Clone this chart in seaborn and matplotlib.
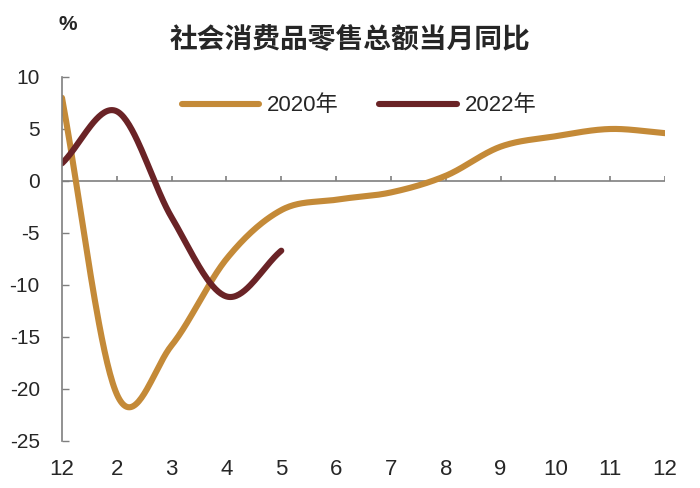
import numpy as np
import pandas as pd
import matplotlib
matplotlib.use("Agg")
import matplotlib.pyplot as plt
import seaborn as sns

# ---- data ----
month_labels = ["12", "2", "3", "4", "5", "6", "7", "8", "9", "10", "11", "12"]
y2020 = [8.0, -20.5, -15.8, -7.5, -2.8, -1.8, -1.1, 0.5, 3.3, 4.3, 5.0, 4.6]
y2022 = [1.7, 6.7, -3.5, -11.1, -6.7]
series_names = ["2020年", "2022年"]
colors = ["#C48A38", "#6A2326"]
title = "社会消费品零售总额当月同比"
y_ticks = [10, 5, 0, -5, -10, -15, -20, -25]


def smooth(vals, n=40):
    """Catmull-Rom style smoothing (like Excel smoothed line)."""
    p = np.asarray(vals, dtype=float)
    x = np.arange(len(p), dtype=float)
    xs, ys = [], []
    for i in range(len(p) - 1):
        p0 = p[i - 1] if i > 0 else p[i]
        p3 = p[i + 2] if i + 2 < len(p) else p[i + 1]
        p1, p2 = p[i], p[i + 1]
        m1 = (p2 - p0) / 2.0 if i > 0 else (p2 - p1)
        m2 = (p3 - p1) / 2.0 if i + 2 < len(p) else (p2 - p1)
        t = np.linspace(0, 1, n, endpoint=(i == len(p) - 2))
        h00 = 2 * t**3 - 3 * t**2 + 1
        h10 = t**3 - 2 * t**2 + t
        h01 = -2 * t**3 + 3 * t**2
        h11 = t**3 - t**2
        ys.append(h00 * p1 + h10 * m1 + h01 * p2 + h11 * m2)
        xs.append(x[i] + t)
    return np.concatenate(xs), np.concatenate(ys)


frames = []
for name, vals in zip(series_names, [y2020, y2022]):
    sx, sy = smooth(vals)
    frames.append(pd.DataFrame({"x": sx, "y": sy, "series": name}))
df = pd.concat(frames, ignore_index=True)

sns.set_theme(style="white")
plt.rcParams["font.family"] = ["Liberation Sans", "Noto Sans CJK SC", "DejaVu Sans"]

fig = plt.figure(figsize=(7, 4.88), dpi=100)
ax = fig.add_axes([62 / 700, 1 - 441 / 488, (665 - 62) / 700, (441 - 77) / 488])

sns.lineplot(data=df, x="x", y="y", hue="series", palette=dict(zip(series_names, colors)),
             sort=False, estimator=None, units="series", linewidth=4.4, ax=ax,
             solid_capstyle="round")

ax.set_xlim(0, len(month_labels) - 1)
ax.set_ylim(-25, 10)
ax.set_xlabel("")
ax.set_ylabel("")

# y axis
ax.set_yticks(y_ticks)
ax.set_yticklabels([str(v) for v in y_ticks], fontsize=15)
ax.tick_params(axis="y", direction="in", length=5, width=1, color="#7f7f7f", pad=16, left=True)

# x axis: labels at bottom, axis line at zero
ax.set_xticks(range(len(month_labels)))
ax.set_xticklabels(month_labels, fontsize=16)
ax.tick_params(axis="x", length=0, pad=13, bottom=True)

for s in ["top", "right", "bottom"]:
    ax.spines[s].set_visible(False)
ax.spines["left"].set_color("#7f7f7f")
ax.spines["left"].set_linewidth(1.2)

ax.axhline(0, color="#7f7f7f", linewidth=1.2, zorder=1)
ax.vlines(range(1, len(month_labels)), 0, 0.5, color="#7f7f7f", linewidth=1.2, zorder=1)
ax.grid(False)

leg = ax.legend(loc="center left", bbox_to_anchor=((180 - 62) / 603 - 0.012, (441 - 106) / 364),
                ncol=2, frameon=False, fontsize=16, handlelength=3.5, handletextpad=0.35,
                columnspacing=1.8, borderaxespad=0)
for line in leg.get_lines():
    line.set_linewidth(4.4)

fig.text(350 / 700, 1 - 40 / 488, title, ha="center", va="center", fontsize=20, fontweight="bold",
         family=["Noto Sans CJK SC", "DejaVu Sans"])
fig.text(68 / 700, 1 - 25 / 488, "%", ha="center", va="center", fontsize=15, fontweight="bold")

fig.savefig("out.png", dpi=100, facecolor="white")
